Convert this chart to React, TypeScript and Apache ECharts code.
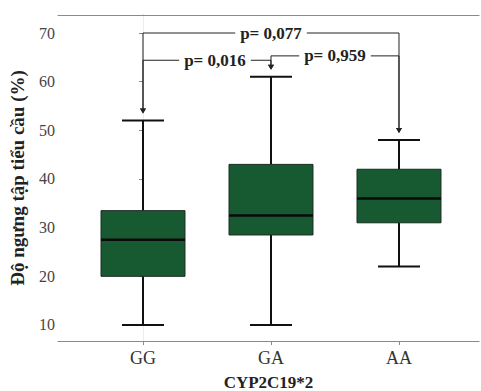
import React, { useEffect, useRef } from "react";
import * as echarts from "echarts";

const categories = ["GG", "GA", "AA"];
// [min, Q1, median, Q3, max]
const boxValues = [
  [10, 20, 27.5, 33.5, 52],
  [10, 28.5, 32.5, 43, 61],
  [22, 31, 36, 42, 48],
];
const yTicks = [10, 20, 30, 40, 50, 60, 70];
const comparisons = [
  { from: 0, to: 2, label: "p= 0,077", level: 70 },
  { from: 0, to: 1, label: "p= 0,016", level: 64.4 },
  { from: 1, to: 2, label: "p= 0,959", level: 65.3 },
];

const SERIF = '"Liberation Serif", "DejaVu Serif", serif';
const BOX_COLOR = "#175a32";
const AXIS_COLOR = "#8a8a8a";
const X_MIN = -0.664;
const X_MAX = 2.625;
const Y_MIN = 6.71;
const Y_MAX = 73.7;

export default function App() {
  const ref = useRef<HTMLDivElement>(null);
  useEffect(() => {
    if (!ref.current) return;
    const chart = echarts.init(ref.current, null, { renderer: "svg" });
    const boxData = boxValues.map((v, i) => [i, ...v]);
    const cmpData = comparisons.map((c, i) => [i, c.from, c.to, c.level]);

    chart.setOption({
      animation: false,
      grid: {
        left: 58,
        top: 15,
        width: 421,
        bottom: 50,
        outerBoundsMode: "none",
        containLabel: false,
        show: false,
      },
      xAxis: [
        {
          type: "value",
          min: X_MIN,
          max: X_MAX,
          name: "CYP2C19*2",
          nameLocation: "middle",
          nameGap: 33,
          nameTextStyle: { fontFamily: SERIF, fontWeight: "bold", fontSize: 17, color: "#222" },
          splitLine: { show: false },
          axisLine: { show: true, lineStyle: { color: AXIS_COLOR, width: 1 } },
          axisTick: { show: true, customValues: [0, 1, 2], length: 4, lineStyle: { color: AXIS_COLOR } },
          axisLabel: {
            customValues: [0, 1, 2],
            formatter: (v: number) => categories[Math.round(v)] ?? "",
            fontFamily: SERIF,
            fontSize: 18,
            color: "#333",
            margin: 8,
          },
        },
        {
          type: "value",
          position: "top",
          min: X_MIN,
          max: X_MAX,
          splitLine: { show: false },
          axisLine: { show: true, lineStyle: { color: AXIS_COLOR, width: 1 } },
          axisTick: { show: false },
          axisLabel: { show: false },
        },
      ],
      yAxis: [
        {
          type: "value",
          min: Y_MIN,
          max: Y_MAX,
          name: "Độ ngưng tập tiểu cầu (%)",
          nameLocation: "middle",
          nameGap: 31,
          nameTextStyle: { fontFamily: SERIF, fontWeight: "bold", fontSize: 19, color: "#222" },
          splitLine: { show: false },
          axisLine: { show: true, lineStyle: { color: AXIS_COLOR, width: 1 } },
          axisTick: { show: true, customValues: yTicks, length: 4, lineStyle: { color: AXIS_COLOR } },
          axisLabel: {
            customValues: yTicks,
            fontFamily: SERIF,
            fontSize: 16,
            color: "#444",
            margin: 3,
          },
        },
        {
          type: "value",
          position: "right",
          min: Y_MIN,
          max: Y_MAX,
          splitLine: { show: false },
          axisLine: { show: true, lineStyle: { color: "#ececec", width: 1 } },
          axisTick: { show: false },
          axisLabel: { show: false },
        },
      ],
      series: [
        {
          type: "custom",
          data: boxData,
          renderItem: (params: any, api: any) => {
            const x = api.value(0);
            const mn = api.value(1), q1 = api.value(2), md = api.value(3), q3 = api.value(4), mx = api.value(5);
            const half = 0.328, capHalf = 0.164;
            const tl = api.coord([x - half, q3]);
            const br = api.coord([x + half, q1]);
            const c = api.coord([x, md]);
            const pMax = api.coord([x, mx]);
            const pMin = api.coord([x, mn]);
            const capL = api.coord([x - capHalf, mx]);
            const capR = api.coord([x + capHalf, mx]);
            const capL2 = api.coord([x - capHalf, mn]);
            const capR2 = api.coord([x + capHalf, mn]);
            const lineStyle = { stroke: "#111", lineWidth: 2 };
            return {
              type: "group",
              children: [
                { type: "line", shape: { x1: pMax[0], y1: pMax[1], x2: pMax[0], y2: tl[1] }, style: lineStyle },
                { type: "line", shape: { x1: pMin[0], y1: br[1], x2: pMin[0], y2: pMin[1] }, style: lineStyle },
                { type: "line", shape: { x1: capL[0], y1: capL[1], x2: capR[0], y2: capR[1] }, style: lineStyle },
                { type: "line", shape: { x1: capL2[0], y1: capL2[1], x2: capR2[0], y2: capR2[1] }, style: lineStyle },
                {
                  type: "rect",
                  shape: { x: tl[0], y: tl[1], width: br[0] - tl[0], height: br[1] - tl[1] },
                  style: { fill: BOX_COLOR, stroke: "#1a2a1f", lineWidth: 1 },
                },
                { type: "line", shape: { x1: tl[0], y1: c[1], x2: br[0], y2: c[1] }, style: { stroke: "#0a0a0a", lineWidth: 2.5 } },
              ],
            };
          },
          z: 2,
        },
        {
          type: "custom",
          data: cmpData,
          renderItem: (params: any, api: any) => {
            const idx = api.value(0);
            const from = api.value(1), to = api.value(2), level = api.value(3);
            const cmp = comparisons[idx];
            const a = api.coord([from, level]);
            const b = api.coord([to, level]);
            const ls = { stroke: "#222", lineWidth: 1 };
            const mk = (catIdx: number, p: number[]) => {
              const top = api.coord([catIdx, boxValues[catIdx][4]]);
              const tipY = top[1] - 7;
              return [
                { type: "line", shape: { x1: p[0], y1: p[1], x2: p[0], y2: tipY - 4 }, style: ls },
                {
                  type: "polygon",
                  shape: { points: [[p[0] - 3, tipY - 5], [p[0] + 3, tipY - 5], [p[0], tipY]] },
                  style: { fill: "#222" },
                },
              ];
            };
            return {
              type: "group",
              children: [
                { type: "line", shape: { x1: a[0], y1: a[1], x2: b[0], y2: b[1] }, style: ls },
                ...mk(from, a),
                ...mk(to, b),
                {
                  type: "text",
                  x: (a[0] + b[0]) / 2 + (from === 0 && to === 1 ? 8 : 0),
                  y: a[1],
                  style: {
                    text: cmp.label,
                    fontFamily: SERIF,
                    fontWeight: "bold",
                    fontSize: 17,
                    fill: "#222",
                    align: "center",
                    verticalAlign: "middle",
                    backgroundColor: "#fff",
                    padding: [0, 5],
                  },
                  z2: 10,
                },
              ],
            };
          },
          z: 3,
        },
      ],
    });
    return () => chart.dispose();
  }, []);
  return <div ref={ref} style={{ width: 481, height: 391, position: "absolute", left: 0, top: 0 }} />;
}
